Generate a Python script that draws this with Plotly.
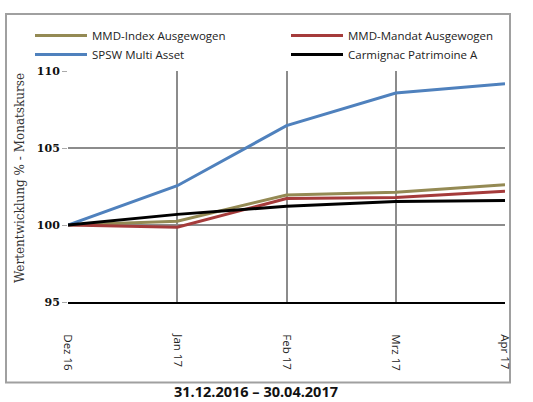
import plotly.graph_objects as go

months = ["Dez 16", "Jan 17", "Feb 17", "Mrz 17", "Apr 17"]
mmd_index = [100.0, 100.25, 101.95, 102.13, 102.62]
mmd_mandat = [100.0, 99.85, 101.72, 101.78, 102.19]
spsw = [100.0, 102.55, 106.45, 108.57, 109.17]
carmignac = [100.0, 100.69, 101.22, 101.52, 101.59]
y_ticks = [95, 100, 105, 110]

series = [
    ("MMD-Index Ausgewogen", mmd_index, "#948A54", "legend"),
    ("MMD-Mandat Ausgewogen", mmd_mandat, "#A53B3B", "legend2"),
    ("SPSW Multi Asset", spsw, "#4F81BD", "legend"),
    ("Carmignac Patrimoine A", carmignac, "#000000", "legend2"),
]

xpos = list(range(len(months)))
fig = go.Figure()
for name, vals, col, lg in series:
    fig.add_trace(go.Scatter(x=xpos, y=vals, mode="lines", name=name, legend=lg,
                             line=dict(color=col, width=3)))

L, R, T, B = 68, 28, 71, 100
W, H = 533, 402
pw, ph = W - L - R, H - T - B

def px(xp):
    return (xp - L) / pw

def py(yp):
    return (H - B - yp) / ph

legfont = dict(family="Open Sans", size=11.5, color="#222")

fig.update_layout(
    width=W, height=H,
    margin=dict(l=L, r=R, t=T, b=B, pad=0),
    paper_bgcolor="white", plot_bgcolor="white",
    font=dict(family="Open Sans", color="#222"),
    showlegend=True,
    legend=dict(orientation="v", x=px(30), y=py(21), xanchor="left", yanchor="top",
                font=legfont, itemwidth=52, tracegroupgap=0, bgcolor="rgba(0,0,0,0)"),
    legend2=dict(orientation="v", x=px(286), y=py(21), xanchor="left", yanchor="top",
                 font=legfont, itemwidth=52, tracegroupgap=0, bgcolor="rgba(0,0,0,0)"),
    xaxis=dict(range=[0, 4], tickvals=xpos, ticktext=months, tickangle=90,
               showgrid=True, gridcolor="#8c8c8c", gridwidth=1.5,
               showline=True, linecolor="#000", linewidth=2,
               ticks="", ticklabelstandoff=28,
               tickfont=dict(family="Open Sans", size=11.5, color="#222"),
               zeroline=False, fixedrange=True),
    yaxis=dict(range=[95, 110], tickvals=y_ticks, showgrid=True,
               gridcolor="#8c8c8c", gridwidth=1.5, zeroline=False,
               ticks="outside", ticklen=5, tickcolor="#aaa",
               tickfont=dict(family="DejaVu Serif", size=11, color="#111", weight="bold"),
               fixedrange=True),
    shapes=[dict(type="rect", xref="paper", yref="paper",
                 x0=px(6), x1=px(510), y0=py(382.5), y1=py(14),
                 line=dict(color="#a0a0a0", width=2), layer="below")],
    annotations=[
        dict(text="Wertentwicklung % - Monatskurse", xref="paper", yref="paper",
             x=px(20), y=py(178), textangle=-90, showarrow=False,
             font=dict(family="DejaVu Serif", size=12, color="#333"),
             xanchor="center", yanchor="middle"),
        dict(text="<b>31.12.2016 – 30.04.2017</b>", xref="paper", yref="paper",
             x=px(256), y=py(402), showarrow=False, borderpad=0,
             font=dict(family="Open Sans", size=14.5, color="#111"),
             xanchor="center", yanchor="bottom"),
    ],
)

fig.write_html("out.html", config={"displayModeBar": False},
               post_script="document.body.style.margin='0';")
